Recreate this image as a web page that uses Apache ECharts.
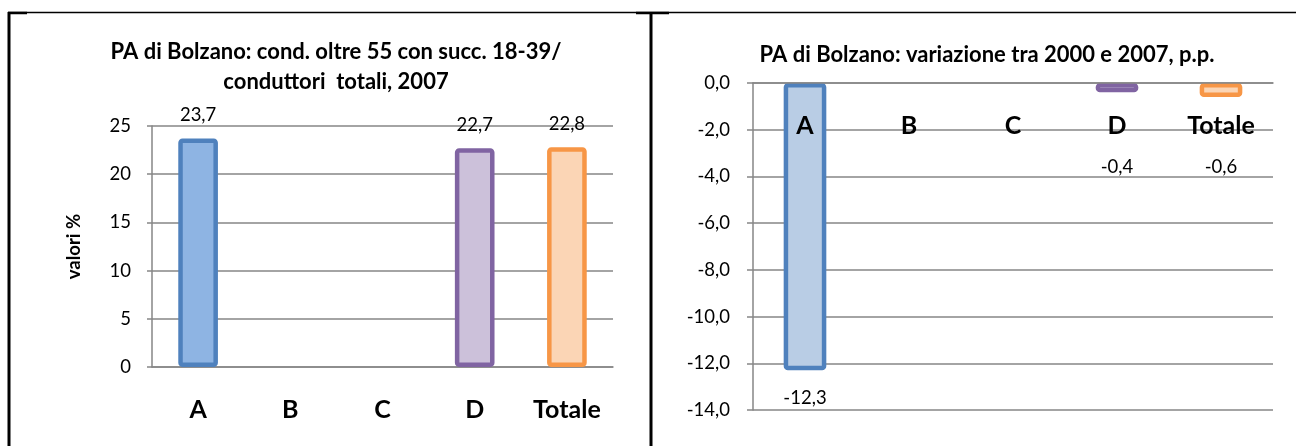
<!DOCTYPE html>
<html>
<head>
<meta charset="utf-8">
<script src="https://cdn.jsdelivr.net/npm/echarts@6/dist/echarts.min.js"></script>
<style>
html,body{margin:0;padding:0;background:#fff;}
#c{width:1296px;height:446px;}
</style>
</head>
<body>
<div id="c"></div>
<script>
// ---- data ----
const categories = ['A', 'B', 'C', 'D', 'Totale'];
const share2007 = [23.7, null, null, 22.7, 22.8];        // left chart, %
const change2000_2007 = [-12.3, null, null, -0.4, -0.6]; // right chart, p.p.
const leftTicks = [0, 5, 10, 15, 20, 25];
const rightTicks = [0, -2, -4, -6, -8, -10, -12, -14];

const leftTitle = 'PA di Bolzano: cond. oltre 55 con succ. 18-39/\nconduttori  totali, 2007';
const rightTitle = 'PA di Bolzano: variazione tra 2000 e 2007, p.p.';
const leftAxisName = 'valori %';

// ---- styles ----
const FONT = 'Lato';
const leftFill = ['#8EB4E3', '#8EB4E3', '#8EB4E3', '#CCC1DA', '#FBD5B5'];
const rightFill = ['#B9CDE5', '#B9CDE5', '#B9CDE5', '#E6E0EC', '#FBD5B5'];
const borders = ['#4F81BD', '#4F81BD', '#4F81BD', '#8064A2', '#F79646'];
const rightLabelDist = [18, 0, 0, 65, 61];

const comma = v => v.toFixed(1).replace('.', ',');

function buildData(vals, fills, dists) {
  return vals.map((v, i) => v === null ? null : ({
    value: v,
    itemStyle: { color: fills[i], borderColor: borders[i], borderWidth: 4.5, borderRadius: 2 },
    label: dists ? { distance: dists[i] } : undefined
  }));
}

const chart = echarts.init(document.getElementById('c'), null, { renderer: 'canvas' });
const gridColor = '#868686';

chart.setOption({
  backgroundColor: '#ffffff',
  animation: false,
  title: [
    { text: leftTitle, left: 331, top: 32, textAlign: 'center',
      textStyle: { fontFamily: FONT, fontWeight: 'bold', fontSize: 22, color: '#000', lineHeight: 30 } },
    { text: rightTitle, left: 982, top: 39, textAlign: 'center',
      textStyle: { fontFamily: FONT, fontWeight: 'bold', fontSize: 22, color: '#000' } }
  ],
  grid: [
    { left: 152, right: 683, top: 126, bottom: 79, outerBoundsMode: 'none' },
    { left: 753, right: 23, top: 83, bottom: 36, outerBoundsMode: 'none' }
  ],
  xAxis: [
    { type: 'category', gridIndex: 0, data: categories,
      axisLine: { lineStyle: { color: gridColor, width: 1.5 } },
      axisTick: { length: 8, lineStyle: { color: gridColor, width: 1.5 } },
      axisLabel: { margin: 30, color: '#000', fontFamily: FONT, fontWeight: 'bold', fontSize: 25 } },
    { type: 'category', gridIndex: 1, data: categories, position: 'top', z: 5,
      axisLine: { onZero: false, lineStyle: { color: gridColor, width: 1.5 } },
      axisTick: { inside: true, length: 6, lineStyle: { color: gridColor, width: 1.5 } },
      axisLabel: { inside: true, margin: 30, color: '#000', fontFamily: FONT, fontWeight: 'bold', fontSize: 25 } }
  ],
  yAxis: [
    { type: 'value', gridIndex: 0, min: leftTicks[0], max: leftTicks[leftTicks.length - 1], interval: 5,
      name: leftAxisName, nameLocation: 'middle', nameGap: 68, nameRotate: 90,
      nameTextStyle: { fontFamily: FONT, fontWeight: 'bold', fontSize: 18.5, color: '#000' },
      axisLine: { show: true, lineStyle: { color: gridColor, width: 1.5 } },
      axisTick: { show: true, length: 5, lineStyle: { color: gridColor, width: 1.5 } },
      splitLine: { lineStyle: { color: gridColor, width: 1.5 } },
      axisLabel: { margin: 21, color: '#000', fontFamily: FONT, fontSize: 18.5 } },
    { type: 'value', gridIndex: 1, min: rightTicks[rightTicks.length - 1], max: rightTicks[0], interval: 2,
      axisLine: { show: true, lineStyle: { color: gridColor, width: 1.5 } },
      axisTick: { show: true, length: 6, lineStyle: { color: gridColor, width: 1.5 } },
      splitLine: { lineStyle: { color: gridColor, width: 1.5 } },
      axisLabel: { margin: 23, color: '#000', fontFamily: FONT, fontSize: 18.5, formatter: v => comma(v) } }
  ],
  series: [
    { type: 'bar', xAxisIndex: 0, yAxisIndex: 0, barWidth: '43%',
      data: buildData(share2007, leftFill, null),
      label: { show: true, position: 'top', distance: 14, color: '#000', fontFamily: FONT, fontSize: 18.5,
        formatter: p => comma(p.value) } },
    { type: 'bar', xAxisIndex: 1, yAxisIndex: 1, barWidth: '41%',
      data: buildData(change2000_2007, rightFill, rightLabelDist),
      label: { show: true, position: 'bottom', color: '#000', fontFamily: FONT, fontSize: 18.5,
        formatter: p => comma(p.value) } }
  ],
  graphic: [
    { type: 'line', shape: { x1: 8, y1: 12.5, x2: 1296, y2: 12.5 }, style: { stroke: '#000', lineWidth: 1.5 } },
    { type: 'line', shape: { x1: 8, y1: 13, x2: 27, y2: 13 }, style: { stroke: '#000', lineWidth: 2.5 } },
    { type: 'line', shape: { x1: 636, y1: 13, x2: 669, y2: 13 }, style: { stroke: '#000', lineWidth: 2.5 } },
    { type: 'line', shape: { x1: 9, y1: 12, x2: 9, y2: 446 }, style: { stroke: '#000', lineWidth: 3 } },
    { type: 'line', shape: { x1: 651, y1: 12, x2: 651, y2: 446 }, style: { stroke: '#000', lineWidth: 3 } }
  ]
});
</script>
</body>
</html>
